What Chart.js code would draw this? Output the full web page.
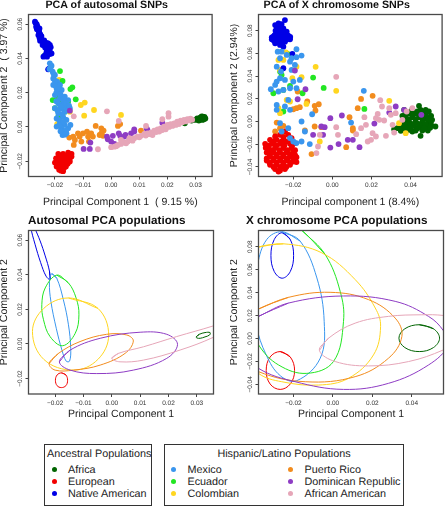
<!DOCTYPE html>
<html><head><meta charset="utf-8">
<script src="https://cdn.jsdelivr.net/npm/chart.js@4"></script>
<style>
html,body{margin:0;padding:0;background:#fff;width:445px;height:506px;overflow:hidden;font-family:"Liberation Sans",sans-serif;color:#222;text-rendering:geometricPrecision}
canvas{position:absolute}
.box{position:absolute;border:1px solid #333;box-sizing:border-box}
.t{position:absolute;font-size:10.8px;line-height:12px;white-space:nowrap}
.d{position:absolute;width:5px;height:5px;border-radius:50%}
</style></head><body>
<canvas id="c1"></canvas><canvas id="c2"></canvas><canvas id="c3"></canvas><canvas id="c4"></canvas>
<div id="legend"></div>
<script>
// ---------- tick labels ----------
const xTicksAuto=[-0.02,-0.01,0,0.01,0.02,0.03];
const yTicksAuto=[-0.02,0,0.02,0.04,0.06];
const xTicksX=[-0.02,0,0.02,0.04];
const yTicksX=[-0.04,-0.02,0,0.02,0.04,0.06,0.08];
// ---------- colours and names ----------
const cAfr="#006400",cEur="#F20000",cNat="#0000E6",cMex="#3A96EE",cEcu="#22E622",cCol="#FFD620",cPR="#F28C1E",cDom="#8E3CC4",cAA="#E6A6B8";
const ancestralNames=["Africa","European","Native American"];
const ancestralColors=[cAfr,cEur,cNat];
const hispanicNames=["Mexico","Ecuador","Colombian","Puerto Rico","Dominican Republic","African American"];
const hispanicColors=[cMex,cEcu,cCol,cPR,cDom,cAA];
// ---------- autosomal scatter ----------
const natAuto=[[-.0271,.0614],[-.0265,.06],[-.0267,.0584],[-.0261,.0575],[-.0255,.0575],[-.0258,.0561],[-.0255,.0546],[-.0259,.0536],[-.0251,.0526],[-.0247,.0511],[-.0253,.0503],[-.0241,.0497],[-.0235,.0487],[-.0224,.0487],[-.0218,.0478],[-.0244,.0478],[-.0235,.0464],[-.022,.0458],[-.0229,.0445],[-.0218,.0439],[-.0212,.0429],[-.0235,.0419],[-.0241,.041],[-.0224,.0336],[-.022,.0342],[-.0269,.0607],[-.0263,.059],[-.0264,.057],[-.0256,.0555],[-.0252,.054],[-.0255,.052],[-.0248,.053],[-.0245,.0505],[-.0238,.0505],[-.023,.049],[-.024,.0487],[-.0228,.047],[-.0215,.0465],[-.0225,.0452],[-.023,.0435],[-.0218,.0425],[-.0225,.0435],[-.0228,.041]];
const eurAuto=[[-.0188,-.0157],[-.0171,-.0157],[-.0153,-.015],[-.0141,-.0157],[-.0196,-.0183],[-.018,-.0183],[-.0162,-.0183],[-.0147,-.0177],[-.02,-.0208],[-.0182,-.0208],[-.0165,-.0208],[-.0147,-.0202],[-.0194,-.0231],[-.0176,-.0231],[-.0161,-.0231],[-.0185,-.025],[-.0171,-.0258],[-.0141,-.0173],[-.018,-.017],[-.0165,-.017],[-.015,-.0165],[-.0188,-.0195],[-.0172,-.0195],[-.0155,-.0195],[-.0148,-.019],[-.019,-.022],[-.0172,-.022],[-.0155,-.0215],[-.018,-.024],[-.0168,-.024],[-.0178,-.0255]];
const mexAuto=[[-.0218,.0371],[-.0212,.0357],[-.022,.0338],[-.0208,.0322],[-.02,.0303],[-.0206,.0283],[-.0192,.0264],[-.0206,.0245],[-.0194,.0225],[-.0182,.0245],[-.0188,.0206],[-.0176,.0216],[-.02,.0186],[-.0182,.0167],[-.0165,.0177],[-.0153,.0157],[-.0171,.0138],[-.0188,.0138],[-.0159,.0118],[-.0176,.0109],[-.02,.0109],[-.0147,.0109],[-.0188,.008],[-.0165,.0089],[-.0171,.006],[-.0194,.005],[-.0159,.0041],[-.0182,.0021],[-.0165,.0012],[-.0194,.0002],[-.0176,-.0008],[-.0171,-.0027],[-.0159,-.0037],[-.0173,-.0047],[-.0153,-.0008],[-.0145,.0012],[-.0215,.035],[-.0205,.031],[-.02,.027],[-.0198,.024],[-.0186,.0225],[-.0195,.02],[-.018,.019],[-.017,.016],[-.0195,.015],[-.016,.014],[-.018,.012],[-.015,.0125],[-.019,.0095],[-.0175,.0075],[-.0185,.004],[-.017,.003],[-.0185,.001],[-.016,-.002],[-.018,-.0025],[-.0165,-.0045]];
const ecuAuto=[[-.0182,.0326],[-.0173,.0268],[-.0138,.0231],[-.0145,.0221],[-.0126,.0161],[-.0192,.0225],[-.0185,.0196],[-.0192,.0177],[-.0208,.0157],[-.02,.0109],[-.0176,.0157],[-.0153,.0148],[-.0165,.0089],[-.0188,.006],[-.0238,.0414]];
const colAuto=[[-.0185,.0274],[-.0108,.0128],[-.0094,.0142],[-.0061,.0099],[.0035,.007],[-.0176,.0118],[-.0147,.0089],[-.0176,.007],[-.0171,.0045],[-.0185,.0031],[-.0192,.0017],[-.0165,.0041],[-.0096,.0066]];
const prAuto=[[-.0149,-.0062],[-.0135,-.0056],[-.0129,-.0076],[-.0118,-.0037],[-.0112,-.0056],[-.0106,-.0085],[-.0133,-.0105],[-.01,-.0037],[-.0086,-.0027],[-.0082,-.0056],[-.0076,-.0047],[-.0071,-.0037],[-.0065,-.0056],[-.0055,.0006],[-.0035,-.0008],[-.0027,-.0021],[-.0079,-.0085],[-.0041,-.0047],[-.0035,-.0037],[-.0029,-.0052],[.0024,.0006],[.0032,.0017],[.0106,-.0021],[-.0153,-.0208]];
const domAuto=[[-.0147,.0095],[-.0098,-.0128],[-.0074,-.0091],[-.0076,-.0128],[-.0015,-.0056],[-.0012,-.0072],[0,-.0085],[.0012,-.0099],[.0006,-.0052],[.0027,-.0037],[.0032,-.0052],[.0047,-.0056],[.0051,-.0047],[.0071,-.0037],[.0082,-.0014],[.0082,-.0027],[.0126,-.0008],[.0129,-.0017],[.0182,.0025],[.0208,.001]];
const aaAuto=[[-.0015,.0091],[-.0133,.0062],[.0027,.0035],[-.0047,-.013],[0,-.0118],[.0012,-.0115],[.0024,-.0105],[.0035,-.0099],[.0047,-.0091],[.0059,-.0085],[.0071,-.0076],[.0082,-.0066],[.0094,-.0056],[.0106,-.0052],[.0118,-.0041],[.0129,-.0037],[.0141,-.0033],[.0153,-.0021],[.0165,-.0014],[.0176,-.0008],[.0188,.0002],[.02,.0012],[.0212,.0017],[.0224,.0021],[.0235,.0031],[.0247,.0037],[.0259,.0041],[.0271,.0045],[.0282,.0049],[.0182,.0045],[.0204,.008],[.0204,.006],[.0124,.0006],[.0147,-.0047],[.0171,-.0027],[.0194,-.0014],[.0218,.0006],[.0241,.0017],[.0035,-.0076],[.0065,-.0066],[.0018,-.0112],[.0041,-.0088],[.0053,-.0095],[.0076,-.008],[.01,-.006],[.0123,-.005],[.0135,-.0042],[.016,-.003],[.0182,-.0018],[.0206,0],[.023,.0012],[.0253,.0028],[.0265,.0032],[.0277,.0038],[.0288,.0042]];
const afrAuto=[[.0262,.0021],[.0286,.0037],[.03,.0041],[.0306,.005],[.0318,.0056],[.0326,.006],[.0335,.005],[.0324,.0041],[.0312,.0037],[.0315,.0052],[.033,.0045],[.0322,.0062],[.0332,.0058]];
// ---------- X chromosome scatter ----------
const natX=[[-.0242,.0893],[-.0275,.0864],[-.0259,.0858],[-.0284,.0835],[-.0292,.0849],[-.025,.082],[-.0267,.0806],[-.0233,.0791],[-.0284,.0776],[-.0301,.0747],[-.0309,.0724],[-.0275,.0762],[-.025,.0762],[-.0225,.0733],[-.0216,.0724],[-.0284,.0703],[-.0262,.0718],[-.0242,.0703],[-.0267,.0674],[-.0292,.0689],[-.0233,.0762],[-.0309,.0741],[-.025,.0659],[-.0204,.0595],[-.025,.0469],[-.0265,.0835],[-.029,.08],[-.0265,.0785],[-.025,.078],[-.024,.0775],[-.0295,.076],[-.0265,.0745],[-.0245,.074],[-.0225,.0755],[-.029,.0725],[-.0275,.0725],[-.025,.0725],[-.0235,.072],[-.0275,.0695],[-.0255,.069],[-.03,.0715],[-.0215,.0745]];
const eurX=[[-.0242,-.0088],[-.0267,-.0117],[-.0225,-.0117],[-.0292,-.0132],[-.025,-.0138],[-.0208,-.0146],[-.0318,-.0161],[-.0284,-.0161],[-.0233,-.0176],[-.0343,-.0196],[-.0309,-.0196],[-.0267,-.0196],[-.0216,-.0196],[-.0191,-.019],[-.0326,-.0234],[-.0292,-.0234],[-.025,-.0234],[-.0208,-.0234],[-.0335,-.0272],[-.0301,-.0272],[-.0267,-.0272],[-.0233,-.0272],[-.0199,-.0272],[-.0318,-.0308],[-.0284,-.0308],[-.025,-.0308],[-.0216,-.0308],[-.0183,-.0314],[-.0335,-.0343],[-.0301,-.0343],[-.0267,-.0343],[-.0233,-.0343],[-.0199,-.0352],[-.0183,-.0357],[-.0318,-.0381],[-.0284,-.0381],[-.025,-.0381],[-.0216,-.0381],[-.0292,-.0419],[-.0267,-.0431],[-.0242,-.0419],[-.0275,-.044],[-.03,-.0178],[-.026,-.0178],[-.0215,-.017],[-.0325,-.0212],[-.0285,-.0212],[-.0245,-.0212],[-.0205,-.0212],[-.034,-.023],[-.031,-.0252],[-.027,-.0252],[-.023,-.0252],[-.019,-.0252],[-.032,-.029],[-.0285,-.029],[-.025,-.029],[-.0215,-.029],[-.019,-.0295],[-.0335,-.0325],[-.03,-.0325],[-.0265,-.0325],[-.023,-.0325],[-.02,-.0325],[-.032,-.0362],[-.0285,-.0362],[-.025,-.0362],[-.0215,-.0362],[-.03,-.04],[-.0265,-.04],[-.0235,-.04]];
const mexX=[[-.0279,.0615],[-.0259,.0615],[-.0183,.0636],[-.0157,.058],[-.0233,.0586],[-.0208,.0557],[-.0183,.0566],[-.0267,.0557],[-.0216,.0527],[-.0284,.0483],[-.0191,.0498],[-.0208,.0454],[-.0262,.044],[-.0267,.0381],[-.0284,.0352],[-.0292,.0322],[-.0314,.0284],[-.0242,.0366],[-.0199,.0352],[-.0166,.0366],[-.0216,.0293],[-.025,.0278],[-.0275,.0264],[-.0183,.0293],[-.0225,.019],[-.0284,.0146],[-.0284,.0103],[-.0242,.0132],[-.0216,.0103],[-.0157,0],[-.0103,.0064],[-.014,-.0088],[-.0225,-.0059],[-.0267,-.0015],[-.0259,-.0088],[-.0115,-.0199],[-.0157,-.0176],[-.0183,-.019],[.0161,.027],[.0096,-.0009],[-.0216,-.0146],[-.0199,-.0176]];
const ecuX=[[-.0228,.0595],[-.0259,.041],[-.0301,.0249],[-.025,.0278],[-.0216,.0314],[-.0152,.0249],[-.0098,.0387],[-.0044,.0296],[.0164,.0111],[-.025,.0088],[-.0267,.044]];
const colX=[[-.0237,.0609],[-.0275,.0542],[-.025,.0542],[-.0267,.0454],[-.0183,.0483],[-.0204,.0381],[-.0157,.039],[-.0085,.0481],[.002,.027],[.0291,.0182],[-.0233,.019],[-.0216,.0176],[-.0275,.0117],[-.0267,.0073],[-.0132,.0155],[-.0064,-.0176],[.0375,-.0103],[.0341,-.0015]];
const prX=[[-.0177,.0264],[-.0128,.0176],[-.0069,.0152],[-.009,.0138],[-.0086,.0097],[-.0183,.0117],[-.0166,.0126],[-.0199,.0108],[.0088,.0038],[.0105,-.0059],[.0105,-.0079],[-.009,-.0044],[-.0056,-.005],[-.014,-.0079],[-.0267,-.0059],[-.0292,-.0088],[-.025,-.0038],[-.0242,-.0103],[.0147,.0199],[.0206,.0226],[.013,.0117],[-.0106,-.0287],[.0071,-.0226],[-.0216,-.0255],[-.0284,-.0009]];
const domX=[[-.0137,.0284],[-.0177,.0196],[-.0191,.0448],[-.001,.0029],[.0049,.0053],[-.0056,-.0044],[-.0039,-.005],[-.0098,-.0117],[-.0047,-.0117],[-.001,-.0229],[.0032,-.0199],[.0079,-.0161],[.0105,-.0161],[.0139,-.0226],[.0215,-.0018],[.0291,.0079],[.0324,.0132],[.0367,.0103],[.0455,.0059]];
const aaX=[[.002,.0393],[.0245,.0188],[.0254,.0132],[.0291,.0117],[.0324,.0073],[.0232,.0067],[.0223,.0029],[.024,.0015],[.0265,.0009],[.0164,.0038],[.0147,-.0059],[.0172,-.0029],[.002,-.005],[.0122,-.0111],[.0029,-.0117],[-.0064,-.0117],[-.0081,-.0278],[-.0073,-.022],[.0181,-.0176],[.0198,-.0161],[.0223,-.0132],[.0206,-.0103],[.0274,-.0126],[.0308,-.0029],[.0358,.0015],[.0316,-.0097],[.0299,.0059],[.038,.0088],[.0409,.0117]];
const afrX=[[.0443,.0138],[.0409,.0108],[.0451,.0103],[.0477,.0103],[.0367,.0103],[.0358,.005],[.0392,.0073],[.0426,.0073],[.0468,.0067],[.0493,.0088],[.0409,.0038],[.0443,.0038],[.0477,.0029],[.0505,.005],[.0375,.0015],[.0392,0],[.0426,0],[.046,-.0009],[.0493,0],[.051,.0015],[.0358,-.0021],[.0384,-.0038],[.0417,-.0038],[.0451,-.0044],[.0485,-.0038],[.0505,-.0029],[.0333,-.0059],[.0316,-.0067],[.0358,-.0059],[.0392,-.0073],[.0426,-.0079],[.046,-.0079],[.0488,-.0079],[.0527,-.0044],[.035,-.0082],[.0451,-.0126],[.0409,-.0088],[.0375,-.0073],[.04,.0085],[.0435,.009],[.0465,.0085],[.0375,.0055],[.041,.0055],[.0445,.0055],[.048,.005],[.039,.002],[.0425,.002],[.046,.002],[.0495,.002],[.037,-.002],[.0405,-.002],[.044,-.002],[.0475,-.002],[.0505,.0005],[.035,-.0045],[.0375,-.005],[.04,-.0055],[.0435,-.006],[.047,-.006],[.05,-.0055]];
// ---------- outlines ----------
const eurAutoEll=[[-.0178,-.0167],[-.0162,-.0179],[-.0156,-.021],[-.0162,-.0241],[-.0178,-.0252],[-.0193,-.0241],[-.0199,-.021],[-.0193,-.0179]];
const afrAutoEll=[[.0298,.0041],[.0309,.0056],[.0329,.0066],[.0347,.0066],[.0345,.0052],[.0329,.0041],[.0312,.0033],[.03,.0035]];
const natAutoEll=[[-.0218,.0373],[-.022,.0421],[-.0235,.0509],[-.0253,.0596],[-.0273,.0674],[-.0288,.0732],[-.0286,.0674],[-.0271,.0577],[-.0251,.047],[-.0232,.0392]];
const mexAutoEll=[[-.0212,.0406],[-.0194,.0379],[-.0171,.0256],[-.0153,.0111],[-.0145,-.0025],[-.0149,-.0099],[-.0161,-.0099],[-.0176,-.0035],[-.0196,.0091],[-.0215,.0247],[-.022,.0353]];
const ecuAutoEll=[[-.0194,.0398],[-.0153,.0353],[-.0126,.0266],[-.0116,.0169],[-.0129,.0062],[-.0173,-.001],[-.0218,.0043],[-.0241,.014],[-.0247,.0227],[-.0235,.0324]];
const colAutoEll=[[-.0153,.0266],[-.0049,.0206],[-.0011,.0052],[-.0049,-.0089],[-.0135,-.0151],[-.024,-.0089],[-.028,.0072],[-.024,.0206]];
const prAutoEll=[[-.0221,-.0113],[-.0188,-.0054],[-.0112,.0014],[-.0018,.0056],[.0053,.0052],[.0076,.0017],[.0047,-.0054],[-.0041,-.0122],[-.0135,-.0151],[-.02,-.0151]];
const domAutoEll=[[-.0185,-.0103],[-.0147,-.0035],[-.0041,.0033],[.01,.0068],[.0194,.0056],[.0232,-.0002],[.0194,-.0083],[.0076,-.0151],[-.0053,-.0171],[-.0147,-.0151]];
const aaAutoEll=[[0,-.0083],[.0024,-.0054],[.0112,-.0016],[.0229,.0043],[.0359,.0105],[.0453,.0159],[.0476,.014],[.0359,.0039],[.0241,-.0035],[.0112,-.0093],[.0029,-.0103]];
// ---------- outlines ----------
const natXEll=[[-.0257,.0923],[-.0216,.0864],[-.0199,.0724],[-.0216,.0584],[-.0257,.0526],[-.0297,.0584],[-.0314,.0724],[-.0297,.0864]];
const eurXEll=[[-.0267,-.0114],[-.0216,-.0161],[-.0194,-.028],[-.0216,-.0397],[-.0267,-.0444],[-.0318,-.0397],[-.0338,-.028],[-.0318,-.0161]];
const afrXEll=[[.0438,.012],[.051,.0085],[.0541,.0003],[.051,-.0079],[.0438,-.0114],[.0365,-.0079],[.0335,.0003],[.0365,.0085]];
const mexXEll=[[-.0259,.0931],[-.0166,.085],[-.0081,.0528],[-.0044,.0149],[-.0064,-.0172],[-.0183,-.0368],[-.0267,-.0324],[-.0338,-.0143],[-.0389,.012],[-.0399,.0382],[-.0382,.0645],[-.0335,.0864]];
const ecuXEll=[[-.0157,.0943],[-.0039,.0733],[.0037,.0412],[.0054,.0149],[.0003,-.0201],[-.0132,-.0304],[-.0275,-.0231],[-.0377,-.0055],[-.0478,.0295],[-.0495,.0733],[-.0394,.1025],[-.0259,.1054]];
const colXEll=[[-.0377,.0797],[-.025,.0826],[-.0056,.0747],[.0113,.0514],[.0215,.0266],[.0242,.0105],[.0206,-.0143],[.0079,-.0347],[-.0073,-.0406],[-.0259,-.0377],[-.0377,-.0304],[-.0512,-.0055],[-.0546,.0295],[-.0495,.0674]];
const prXEll=[[-.0377,.0257],[-.0225,.0359],[-.0014,.0403],[.0181,.0339],[.0316,.0178],[.035,.0018],[.0282,-.0172],[.0113,-.0333],[-.014,-.0377],[-.0377,-.0289],[-.0529,-.0114],[-.0529,.0091]];
const domXEll=[[-.0377,.0193],[-.0225,.0309],[.0054,.0371],[.0316,.0324],[.0485,.0193],[.0561,.0067],[.0586,-.0055],[.0485,-.0231],[.0282,-.0391],[.0054,-.0444],[-.0191,-.0377],[-.0377,-.026],[-.0495,-.0055],[-.0478,.0091]];
const aaXEll=[[-.0068,-.0105],[-.0022,.0003],[.0113,.0134],[.0282,.0193],[.0451,.0207],[.0561,.0201],[.0688,.0164],[.0722,.0047],[.0561,-.0099],[.0384,-.0201],[.0181,-.0239],[.0012,-.0201]];

const fontFam='"Liberation Sans",Arial,sans-serif';
const toXY=a=>a.map(p=>({x:p[0],y:p[1]}));
const dots=(a,c)=>({data:toXY(a),backgroundColor:c,borderWidth:0,pointRadius:2.9,pointHoverRadius:2.9,showLine:false});
const ring=(a,c)=>({data:toXY([...a,a[0],a[1]]),borderColor:c,borderWidth:1,pointRadius:0,showLine:true,tension:0.38,fill:false});
const frame={id:'frame',
  beforeInit(ch){ch.ctx.textRendering='geometricPrecision';},
  beforeDraw(ch){ch.ctx.textRendering='geometricPrecision';},
  afterDatasetsDraw(ch){const a=ch.chartArea,g=ch.ctx;g.save();g.strokeStyle='#4a4a4a';g.lineWidth=1.3;g.strokeRect(a.left,a.top,a.right-a.left,a.bottom-a.top);g.restore();}};
const fmt=v=>(v<0?'\u2212':'')+Math.abs(v).toFixed(2);

function panel(id,left,top,w,h,o){
  const cv=document.getElementById(id);
  cv.style.left=left+'px';cv.style.top=top+'px';cv.width=w;cv.height=h;cv.style.width=w+'px';cv.style.height=h+'px';
  new Chart(cv,{type:'scatter',data:{datasets:o.sets},plugins:[frame],options:{
    responsive:false,animation:false,events:[],devicePixelRatio:1,
    layout:{padding:{top:0,right:o.right,bottom:0,left:0}},
    plugins:{legend:{display:false},tooltip:{enabled:false},
      title:{display:true,text:o.title,color:'#111',font:{family:fontFam,size:o.ts,weight:'bold',lineHeight:9.9/o.ts},padding:{top:0,bottom:4.6}}},
    scales:{
      x:{type:'linear',min:o.xr[0],max:o.xr[1],
        afterBuildTicks:s=>{s.ticks=o.xt.map(v=>({value:v}))},
        afterFit:s=>{s.height=o.xh},
        grid:{display:true,drawOnChartArea:false,drawTicks:true,tickLength:3,color:'#444',lineWidth:1},border:{display:false},
        ticks:{autoSkip:false,maxRotation:0,minRotation:0,padding:2,color:'#333',font:{family:fontFam,size:6.5},callback:fmt},
        title:{display:true,text:o.xl,color:'#222',font:{family:fontFam,size:10.5,lineHeight:1.05},padding:0}},
      y:{type:'linear',min:o.yr[0],max:o.yr[1],
        afterBuildTicks:s=>{s.ticks=o.yt.map(v=>({value:v}))},
        afterFit:s=>{s.width=28.5},
        grid:{display:true,drawOnChartArea:false,drawTicks:true,tickLength:3,color:'#444',lineWidth:1},border:{display:false},
        ticks:{autoSkip:false,minRotation:90,maxRotation:90,crossAlign:'center',padding:-2.7,color:'#333',font:{family:fontFam,size:6.5},callback:fmt},
        title:{display:true,text:o.yl,color:'#222',font:{family:fontFam,size:10.5,lineHeight:0.84},padding:0}}
    }}});
}
const xrAuto=[-0.0294,0.0359],yrAuto=[-0.0289,0.0656],xrX=[-0.0377,0.0561],yrX=[-0.0484,0.0942];
panel('c1',0,0,215,208,{title:'PCA of autosomal SNPs',ts:10.7,xl:'Principal Component 1  ( 9.15 %)',yl:'Principal Component 2  ( 3.97 %)',xr:xrAuto,yr:yrAuto,xt:xTicksAuto,yt:yTicksAuto,xh:31.5,right:1.5,
 sets:[dots(aaAuto,cAA),dots(domAuto,cDom),dots(mexAuto,cMex),dots(natAuto,cNat),dots(eurAuto,cEur),dots(afrAuto,cAfr),dots(ecuAuto,cEcu),dots(colAuto,cCol),dots(prAuto,cPR)]});
panel('c2',230,0,215,208,{title:'PCA of X chromosome SNPs',ts:10.7,xl:'Principal component 1 (8.4%)',yl:'Principal component 2 (2.94%)',xr:xrX,yr:yrX,xt:xTicksX,yt:yTicksX,xh:31.5,right:1.5,
 sets:[dots(aaX,cAA),dots(domX,cDom),dots(mexX,cMex),dots(natX,cNat),dots(eurX,cEur),dots(colX,cCol),dots(afrX,cAfr),dots(ecuX,cEcu),dots(prX,cPR)]});
panel('c3',0,216,215,204,{title:'Autosomal PCA populations',ts:11.7,xl:'Principal Component 1',yl:'Principal Component 2',xr:xrAuto,yr:yrAuto,xt:xTicksAuto,yt:yTicksAuto,xh:26,right:1.5,
 sets:[ring(aaAutoEll,cAA),ring(domAutoEll,cDom),ring(prAutoEll,cPR),ring(colAutoEll,cCol),ring(ecuAutoEll,cEcu),ring(mexAutoEll,cMex),ring(natAutoEll,cNat),ring(eurAutoEll,cEur),ring(afrAutoEll,cAfr)]});
panel('c4',230,216,215,204,{title:'X chromosome PCA populations',ts:11.7,xl:'Principal Component 1',yl:'Principal Component 2',xr:xrX,yr:yrX,xt:xTicksX,yt:yTicksX,xh:26,right:1.5,
 sets:[ring(aaXEll,cAA),ring(domXEll,cDom),ring(prXEll,cPR),ring(colXEll,cCol),ring(ecuXEll,cEcu),ring(mexXEll,cMex),ring(natXEll,cNat),ring(eurXEll,cEur),ring(afrXEll,cAfr)]});

// ---------- legend boxes ----------
const L=document.getElementById('legend');
function add(cls,css,text){const e=document.createElement('div');e.className=cls;e.style.cssText=css;if(text)e.textContent=text;L.appendChild(e);}
add('box','left:44px;top:444px;width:108px;height:61.5px');
add('box','left:164px;top:444px;width:240px;height:61.5px');
add('t','left:47px;top:447.5px','Ancestral Populations');
add('t','left:164px;width:240px;text-align:center;top:447.5px','Hispanic/Latino Populations');
const rows=[463.5,475.8,487.8];
ancestralNames.forEach((n,i)=>{add('d',`left:51.5px;top:${rows[i]+3.5}px;background:${ancestralColors[i]}`);add('t',`left:68px;top:${rows[i]}px`,n);});
hispanicNames.forEach((n,i)=>{const col=i<3?0:1,r=rows[i%3];
  add('d',`left:${col?288:171}px;top:${r+3.5}px;background:${hispanicColors[i]}`);
  add('t',`left:${col?304.5:187.5}px;top:${r}px`,n);});
</script>
</body></html>
